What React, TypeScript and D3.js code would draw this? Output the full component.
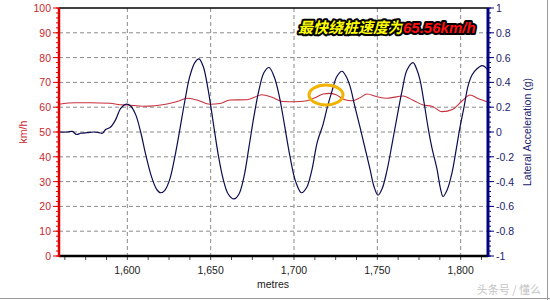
import React from "react";
import * as d3 from "d3";

const xTicks = [1600, 1650, 1700, 1750, 1800];
const speedTicks = [0, 10, 20, 30, 40, 50, 60, 70, 80, 90, 100];
const accelTicks = [-1, -0.8, -0.6, -0.4, -0.2, 0, 0.2, 0.4, 0.6, 0.8, 1];

const speedData: [number, number][] = [
  [1559, 61.2], [1568.6, 61.8], [1577.6, 61.8], [1589.6, 61.6], [1595.6, 61.0],
  [1599.8, 60.9], [1609.4, 60.4], [1616.6, 60.6], [1623.8, 61.3], [1630.4, 62.4],
  [1635.8, 63.6], [1641.8, 62.9], [1649.6, 61.2], [1655.6, 61.5], [1661.6, 62.9],
  [1671.8, 63.0], [1680.8, 65.0], [1686.8, 64.0], [1693.4, 62.3], [1700.6, 62.2],
  [1707.8, 62.6], [1712.6, 63.8], [1717.4, 65.3], [1721.6, 65.56], [1725.2, 65.0],
  [1730.6, 63.0], [1734.8, 62.6], [1739.6, 63.8], [1743.8, 65.3], [1749.8, 64.2],
  [1755.8, 63.6], [1765.4, 64.5], [1771.4, 62.8], [1777.4, 60.9], [1782.8, 60.4],
  [1788.8, 58.2], [1795.4, 59.2], [1800.8, 62.5], [1805.6, 64.9], [1810.4, 63.5],
  [1816.4, 62.0],
];

const accelData: [number, number][] = [
  [1559, 0.0], [1564, 0.0], [1567, 0.005], [1569.5, -0.02], [1572, -0.01],
  [1576, -0.005], [1580, 0.0], [1583, -0.005], [1585, -0.01], [1587, 0.02],
  [1590, 0.04], [1593, 0.1], [1596, 0.19], [1599.5, 0.225], [1602, 0.21],
  [1605, 0.14], [1608, 0.0], [1611, -0.18], [1614.5, -0.36], [1617.5, -0.46],
  [1620, -0.49], [1622.5, -0.47], [1625.5, -0.38], [1628.5, -0.2], [1631.5, 0.02],
  [1634.5, 0.25], [1637.5, 0.45], [1640.5, 0.56], [1643, 0.59], [1645.5, 0.53],
  [1648.5, 0.34], [1651.5, 0.08], [1654.5, -0.18], [1657.5, -0.38], [1660.5, -0.5],
  [1664, -0.54], [1667, -0.5], [1670, -0.36], [1673, -0.12], [1676, 0.13],
  [1679, 0.34], [1682, 0.48], [1685, 0.52], [1688, 0.45], [1691, 0.3],
  [1694, 0.08], [1697.5, -0.19], [1701, -0.4], [1704.5, -0.49], [1707.5, -0.45],
  [1710.5, -0.32], [1714, -0.08], [1717.4, 0.06], [1720, 0.2], [1722.8, 0.33],
  [1725.8, 0.45], [1728.8, 0.49], [1731.2, 0.45], [1733.6, 0.37], [1736.6, 0.2],
  [1739.6, 0.04], [1742.6, -0.13], [1745.6, -0.3], [1748, -0.44], [1750.4, -0.51],
  [1752.8, -0.46], [1755.8, -0.31], [1758.8, -0.1], [1761.8, 0.12], [1764.8, 0.33],
  [1767.8, 0.5], [1771.4, 0.56], [1773.8, 0.5], [1775.6, 0.42], [1778, 0.24],
  [1780.4, 0.04], [1782.8, -0.13], [1785.8, -0.3], [1787.8, -0.45], [1789.4, -0.52],
  [1791.8, -0.47], [1794.8, -0.33], [1797.2, -0.15], [1799.6, 0.04], [1802, 0.2],
  [1804.4, 0.37], [1806.8, 0.46], [1809.8, 0.51], [1812.8, 0.535], [1814.6, 0.525],
  [1816.4, 0.5],
];

const W = 550;
const H = 300;
const L = 59;
const R = 488;
const T = 8;
const B = 256;

export default function App() {
  const x = d3.scaleLinear().domain([1559, 1816.4]).range([L, R]);
  const yS = d3.scaleLinear().domain([0, 100]).range([B, T]);
  const yA = d3.scaleLinear().domain([-1, 1]).range([B, T]);

  const speedLine = d3
    .line<[number, number]>()
    .x((d) => x(d[0]))
    .y((d) => yS(d[1]))
    .curve(d3.curveMonotoneX);
  const accelLine = d3
    .line<[number, number]>()
    .x((d) => x(d[0]))
    .y((d) => yA(d[1]))
    .curve(d3.curveCatmullRom.alpha(0.5));

  const xMinor = d3.range(1562.5, 1816.4, 12.5);
  const sMinor = d3.range(0, 100.01, 2);
  const aMinor = d3.range(-1, 1.001, 0.04);
  const font = "'Liberation Sans', Arial, sans-serif";

  return (
    <svg
      width={W}
      height={H}
      style={{ position: "absolute", left: 0, top: 0, background: "#fff" }}
      fontFamily={font}
    >
      <rect x={0} y={0} width={W} height={H} fill="#fff" />
      {/* grid */}
      {xTicks.map((t) => (
        <line key={"gx" + t} x1={x(t)} x2={x(t)} y1={T} y2={B} stroke="#8a8a8a" strokeDasharray="4,3" />
      ))}
      {speedTicks.filter((t) => t > 0 && t < 100).map((t) => (
        <line key={"gy" + t} x1={L} x2={R} y1={yS(t)} y2={yS(t)} stroke="#8a8a8a" strokeDasharray="4,3" />
      ))}
      {/* series */}
      <path d={speedLine(speedData) || ""} fill="none" stroke="#c8303c" strokeWidth={1.1} />
      <path d={accelLine(accelData) || ""} fill="none" stroke="#0c0c50" strokeWidth={1.2} />
      {/* top border */}
      <line x1={L} x2={R} y1={T} y2={T} stroke="#000" strokeWidth={1.5} />
      {/* bottom axis */}
      {xMinor.map((t) => (
        <line key={"xm" + t} x1={x(t)} x2={x(t)} y1={B} y2={B + 4} stroke="#444" />
      ))}
      <line x1={L} x2={R} y1={B} y2={B} stroke="#000" strokeWidth={2.5} />
      {xTicks.map((t) => (
        <text key={"xl" + t} x={x(t)} y={B + 18} textAnchor="middle" fontSize={10.5} fill="#222">
          {d3.format(",")(t)}
        </text>
      ))}
      <text x={273} y={288} textAnchor="middle" fontSize={10.5} fill="#222">metres</text>
      {/* left axis */}
      {sMinor.map((t) => (
        <line key={"sm" + t} x1={L - 3} x2={L} y1={yS(t)} y2={yS(t)} stroke="#e00000" />
      ))}
      {speedTicks.map((t) => (
        <line key={"st" + t} x1={L - 6} x2={L} y1={yS(t)} y2={yS(t)} stroke="#e00000" />
      ))}
      <line x1={L} x2={L} y1={T} y2={B + 1} stroke="#e00000" strokeWidth={2.5} />
      {speedTicks.map((t) => (
        <text key={"sl" + t} x={L - 8} y={yS(t) + 4} textAnchor="end" fontSize={10.5} fill="#c8282d">
          {t}
        </text>
      ))}
      <text
        transform={`translate(${27},${132}) rotate(-90)`}
        textAnchor="middle"
        fontSize={10.5}
        fill="#c8282d"
      >
        km/h
      </text>
      {/* right axis */}
      {aMinor.map((t) => (
        <line key={"am" + t} x1={R} x2={R + 3} y1={yA(t)} y2={yA(t)} stroke="#000080" />
      ))}
      {accelTicks.map((t) => (
        <line key={"at" + t} x1={R} x2={R + 6} y1={yA(t)} y2={yA(t)} stroke="#000080" />
      ))}
      <line x1={R} x2={R} y1={T} y2={B + 1} stroke="#000080" strokeWidth={3} />
      {accelTicks.map((t) => (
        <text key={"al" + t} x={R + 8} y={yA(t) + 4} textAnchor="start" fontSize={10.5} fill="#22226e">
          {String(Math.round(t * 10) / 10)}
        </text>
      ))}
      <text
        transform={`translate(${531},${132}) rotate(-90)`}
        textAnchor="middle"
        fontSize={10.5}
        fill="#22226e"
      >
        Lateral Acceleration (g)
      </text>
      {/* annotation */}
      <ellipse cx={326} cy={95} rx={17} ry={10} fill="none" stroke="#f2b200" strokeWidth={3} />
      <text
        x={298}
        y={33}
        fontSize={15}
        fontWeight="bold"
        fontStyle="italic"
        stroke="#000"
        strokeWidth={4}
        strokeLinejoin="round"
        paintOrder="stroke"
        fontFamily="'Noto Sans CJK SC', sans-serif"
      >
        <tspan fill="#ffff00">最快绕桩速度为</tspan>
        <tspan fill="#ff1010" fontFamily={font}>65.56km/h</tspan>
      </text>
      {/* watermark & frame */}
      <text x={541} y={294} textAnchor="end" fontSize={11} fill="#c4c4c4" fontFamily="'Noto Sans CJK SC', sans-serif">
        头条号 / 懂么
      </text>
      <line x1={0} x2={W} y1={298.5} y2={298.5} stroke="#9a9a9a" />
      <line x1={547.5} x2={547.5} y1={0} y2={H} stroke="#9a9a9a" />
    </svg>
  );
}
